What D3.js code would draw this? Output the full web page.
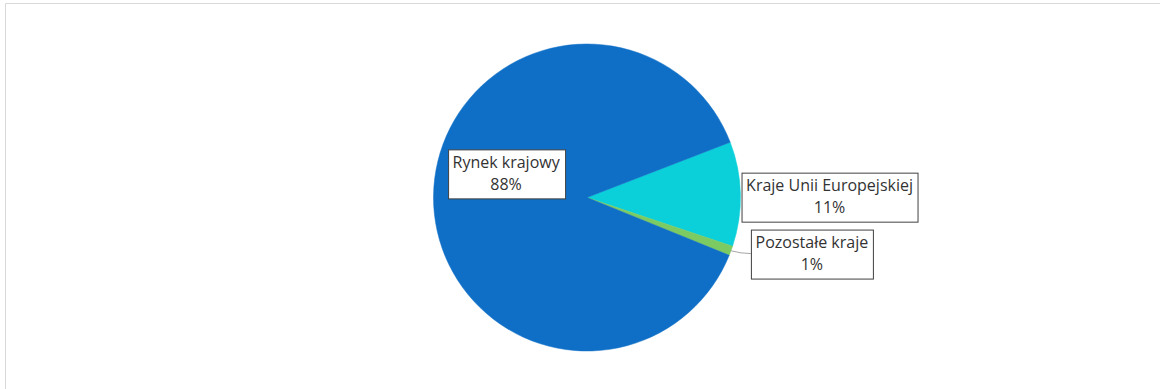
<!DOCTYPE html>
<html>
<head>
<meta charset="utf-8">
<script src="https://cdn.jsdelivr.net/npm/d3@7"></script>
<style>
  html, body { margin: 0; padding: 0; background: #fff; }
  svg { display: block; }
  text { font-family: "Open Sans", "Noto Sans", sans-serif; fill: #333333; }
</style>
</head>
<body>
<svg id="chart" width="1160" height="389"></svg>
<script>
// Sales structure by market (share of revenue)
const categories = ["Kraje Unii Europejskiej", "Pozostałe kraje", "Rynek krajowy"];
const shares = [0.11, 0.01, 0.88];
const colors = ["#0BD0D9", "#7CCA62", "#0F6FC6"];

// Label placement: polar position (degrees clockwise from 12 o'clock, radius factor)
const labelAngles = [89.8, 104, 286.6];
const labelRadii = [1.58, 1.51, 0.55];

const W = 1160, H = 389;
const cx = 587, cy = 197.5, R = 153.5;
const startDeg = 68.9;

const svg = d3.select("#chart");

// Chart area frame (top and left edges visible)
svg.append("line").attr("x1", 5.5).attr("x2", W).attr("y1", 3.5).attr("y2", 3.5)
  .attr("stroke", "#d9d9d9").attr("stroke-width", 1);
svg.append("line").attr("x1", 5.5).attr("x2", 5.5).attr("y1", 3.5).attr("y2", H)
  .attr("stroke", "#d9d9d9").attr("stroke-width", 1);

const rad = d => d * Math.PI / 180;
const pie = d3.pie().sort(null).value(d => d)
  .startAngle(rad(startDeg)).endAngle(rad(startDeg) + 2 * Math.PI);
const arcs = pie(shares);
const arc = d3.arc().innerRadius(0).outerRadius(R);

const g = svg.append("g").attr("transform", `translate(${cx},${cy})`);
g.selectAll("path.slice").data(arcs).join("path")
  .attr("class", "slice")
  .attr("d", arc)
  .attr("fill", (d, i) => colors[i])
  .attr("stroke", (d, i) => colors[i])
  .attr("stroke-width", 0.5);

const fmt = d3.format(".0%");
const polar = (deg, r) => [r * Math.sin(rad(deg)), -r * Math.cos(rad(deg))];

const fontSize = 16, lineH = 22, padX = 4.5, padY = 3;

arcs.forEach((d, i) => {
  const [lx, ly] = polar(labelAngles[i], labelRadii[i] * R);
  const lg = g.append("g").attr("transform", `translate(${lx},${ly})`);
  const rect = lg.append("rect").attr("fill", "#fff").attr("stroke", "#404040").attr("stroke-width", 1);
  const t = lg.append("text").attr("text-anchor", "middle").attr("font-size", fontSize);
  t.append("tspan").attr("x", 0).attr("y", -lineH / 2 + 5.5).text(categories[i]);
  t.append("tspan").attr("x", 0).attr("y", lineH / 2 + 5.5).text(fmt(shares[i]));
  const bb = t.node().getBBox();
  const bw = Math.round(bb.width + 2 * padX), bh = 49;
  rect.attr("x", Math.round(-bw / 2) + 0.5).attr("y", Math.round(-bh / 2) + 0.5)
    .attr("width", bw).attr("height", bh);

  // Leader line for the thin slice whose label sits away from its edge
  if (i === 1) {
    const mid = (d.startAngle + d.endAngle) / 2 * 180 / Math.PI;
    const [px, py] = polar(mid, R);
    const ex = lx - bw / 2, ey = ly;
    g.insert("path", "g")
      .attr("d", `M${px},${py} Q${(px + ex) / 2},${ey} ${ex},${ey}`)
      .attr("fill", "none").attr("stroke", "#a6a6a6").attr("stroke-width", 1);
  }
});
</script>
</body>
</html>
